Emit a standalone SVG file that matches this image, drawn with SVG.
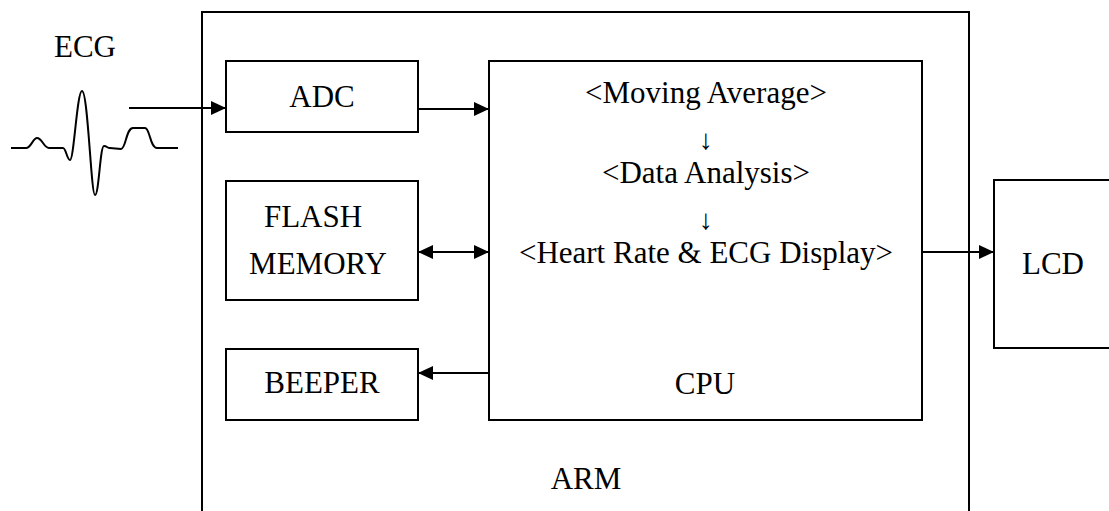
<svg xmlns="http://www.w3.org/2000/svg" width="1109" height="511" viewBox="0 0 1109 511">
<defs>
<marker id="ah" viewBox="0 0 15 14" refX="15" refY="7" markerWidth="15" markerHeight="14" markerUnits="userSpaceOnUse" orient="auto-start-reverse">
<path d="M0,0 L15,7 L0,14 Z" fill="#000"/>
</marker>
</defs>
<style>
.box{fill:#fff;stroke:#000;stroke-width:2}
.lbl{font-family:'Liberation Serif',serif;font-size:31px;fill:#000;text-anchor:middle}
.arr{font-family:'Liberation Serif',serif;font-size:28px;fill:#000;text-anchor:middle}
.cl{stroke:#000;stroke-width:2;fill:none}
</style>
<rect width="1109" height="511" fill="#fff"/>
<g id="arm">
<rect class="box" x="202" y="12" width="767" height="520"/>
<text class="lbl" x="586" y="489">ARM</text>
</g>
<g id="adc">
<rect class="box" x="226" y="61" width="192" height="71"/>
<text class="lbl" x="322" y="107">ADC</text>
</g>
<g id="flash">
<rect class="box" x="226" y="181" width="192" height="119"/>
<text class="lbl" x="313" y="227">FLASH</text>
<text class="lbl" x="318" y="274">MEMORY</text>
</g>
<g id="beeper">
<rect class="box" x="226" y="349" width="192" height="71"/>
<text class="lbl" x="322" y="393">BEEPER</text>
</g>
<g id="cpu">
<rect class="box" x="489" y="61" width="433" height="359"/>
<text class="lbl" x="706" y="103">&lt;Moving Average&gt;</text>
<text class="arr" x="706" y="149">↓</text>
<text class="lbl" x="706" y="183">&lt;Data Analysis&gt;</text>
<text class="arr" x="706" y="229">↓</text>
<text class="lbl" x="706" y="263">&lt;Heart Rate &amp; ECG Display&gt;</text>
<text class="lbl" x="705" y="394">CPU</text>
</g>
<g id="lcd">
<rect class="box" x="994" y="180" width="130" height="168"/>
<text class="lbl" x="1053" y="274">LCD</text>
</g>
<g id="ecg">
<text class="lbl" x="85" y="57">ECG</text>
<path class="cl" d="M11,148 L26,148 C31,148 33,138 37,138 C42,138 44,148 49,148 L63,148 C66,148 67,160 70,160 C74,160 77,91 82,91 C88,91 91,195 95,195 C99,195 100,146 104,146 C107,146 107,148 110,148 L121,149 C126,149 126,128 133,128 L145,128 C150,128 150,148 157,148 L178,148"/>
</g>
<g id="connectors">
<line class="cl" x1="129" y1="108" x2="226" y2="108" marker-end="url(#ah)"/>
<line class="cl" x1="418" y1="109" x2="489" y2="109" marker-end="url(#ah)"/>
<line class="cl" x1="418" y1="252" x2="489" y2="252" marker-start="url(#ah)" marker-end="url(#ah)"/>
<line class="cl" x1="489" y1="373" x2="418" y2="373" marker-end="url(#ah)"/>
<line class="cl" x1="922" y1="252" x2="994" y2="252" marker-end="url(#ah)"/>
</g>
</svg>
